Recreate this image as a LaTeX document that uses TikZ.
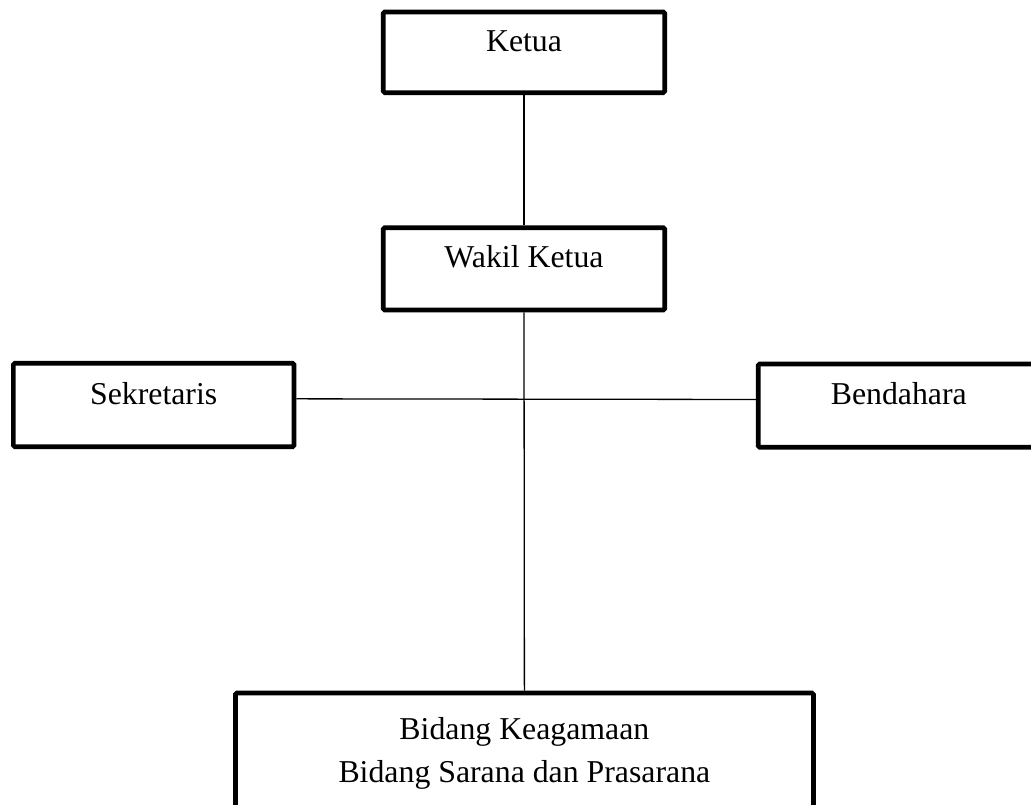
\documentclass[tikz,border=0pt]{standalone}
\usepackage{fontspec}
\setmainfont{Liberation Serif}
\usetikzlibrary{calc}
\begin{document}
\begin{tikzpicture}[x=1pt,y=-1pt,
  box/.style={draw, line width=4.7pt, rounded corners=1.5pt, inner sep=0pt, anchor=base,
              font=\fontsize{31.8pt}{43pt}\selectfont},
  conn/.style={line width=1.3pt}]
\useasboundingbox (0,0) rectangle (1031,805);
\clip (0,0) rectangle (1031,805);
\node[box, minimum width=281.4pt, text height=39.7pt, text depth=41pt] (ketua) at (524,51.7) {Ketua};
\node[box, minimum width=281.4pt, text height=40.3pt, text depth=42pt] (wakil) at (524,268) {Wakil Ketua};
\node[box, minimum width=280.7pt, text height=40.7pt, text depth=42.7pt] (sek) at (153.7,404) {Sekretaris};
\node[box, minimum width=281pt, text height=40pt, text depth=43.3pt] (ben) at (898.8,404) {Bendahara};
\node[box, minimum width=578pt, text height=46pt, text depth=110pt] (bidang) at (524.4,739)
  {\begin{tabular}[t]{@{}c@{}}Bidang Keagamaan\\Bidang Sarana dan Prasarana\end{tabular}};
\draw[conn] (ketua.south) -- (wakil.north);
\draw[conn] (wakil.south) -- (bidang.north);
\draw[conn] ($(sek.north east)!0.43!(sek.south east)$) -- ($(ben.north west)!0.43!(ben.south west)$);
\end{tikzpicture}
\end{document}
